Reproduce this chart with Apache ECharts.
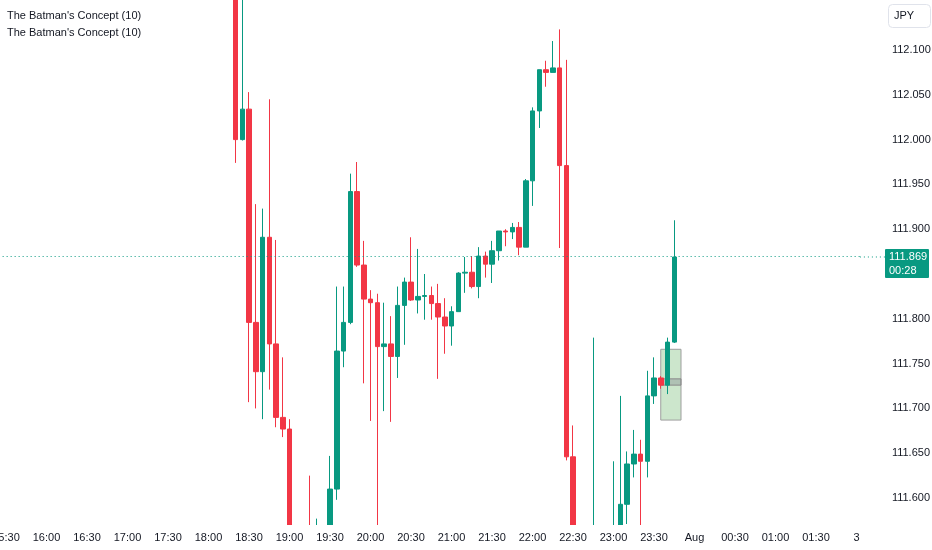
<!DOCTYPE html>
<html><head><meta charset="utf-8">
<script src="https://cdn.jsdelivr.net/npm/echarts@6/dist/echarts.min.js"></script>
<style>html,body{margin:0;padding:0;background:#fff}#c{width:932px;height:550px}</style>
</head><body><div id="c"></div>
<script>
const candleTimes = ['18:20','18:25','18:30','18:35','18:40','18:45','18:50','18:55','19:00','19:05','19:10','19:15','19:20','19:25','19:30','19:35','19:40','19:45','19:50','19:55','20:00','20:05','20:10','20:15','20:20','20:25','20:30','20:35','20:40','20:45','20:50','20:55','21:00','21:05','21:10','21:15','21:20','21:25','21:30','21:35','21:40','21:45','21:50','21:55','22:00','22:05','22:10','22:15','22:20','22:25','22:30','22:35','22:40','22:45','22:50','22:55','23:00','23:05','23:10','23:15','23:20','23:25','23:30','23:35','23:40','23:45'];
const openVals = [112.190,112.000,112.034,111.796,111.741,111.891,111.772,111.690,111.677,111.520,111.480,111.530,111.490,111.530,111.550,111.610,111.764,111.796,111.942,111.860,111.822,111.818,111.769,111.772,111.758,111.815,111.841,111.821,111.825,111.826,111.817,111.802,111.792,111.808,111.851,111.852,111.836,111.870,111.861,111.876,111.898,111.897,111.902,111.880,111.954,112.032,112.078,112.075,112.080,111.971,111.646,111.470,111.420,111.440,111.500,111.480,111.520,111.530,111.593,111.638,111.649,111.641,111.714,111.734,111.726,111.774];
const highVals = [112.210,112.170,112.053,111.928,111.923,112.045,111.888,111.757,111.688,111.550,111.530,111.625,111.577,111.565,111.647,111.836,111.836,111.962,111.975,111.887,111.832,111.828,111.818,111.803,111.836,111.846,111.891,111.878,111.850,111.836,111.839,111.823,111.814,111.852,111.869,111.870,111.880,111.875,111.887,111.898,111.900,111.907,111.908,111.956,112.036,112.078,112.088,112.110,112.123,112.089,111.681,111.520,111.500,111.779,111.550,111.540,111.641,111.714,111.652,111.676,111.665,111.742,111.757,111.736,111.779,111.910];
const lowVals = [111.974,111.999,111.707,111.700,111.688,111.721,111.679,111.668,111.500,111.460,111.440,111.470,111.460,111.500,111.530,111.598,111.746,111.794,111.858,111.728,111.686,111.560,111.697,111.685,111.734,111.771,111.820,111.806,111.799,111.799,111.733,111.761,111.770,111.808,111.829,111.834,111.823,111.846,111.840,111.865,111.881,111.889,111.871,111.880,111.926,112.013,112.059,112.075,111.879,111.642,111.450,111.400,111.380,111.420,111.460,111.450,111.500,111.510,111.571,111.623,111.568,111.623,111.705,111.722,111.716,111.773];
const closeVals = [112.000,112.034,111.796,111.741,111.891,111.772,111.690,111.677,111.520,111.480,111.500,111.490,111.530,111.550,111.610,111.764,111.796,111.942,111.860,111.822,111.818,111.769,111.772,111.758,111.815,111.841,111.821,111.825,111.826,111.817,111.802,111.792,111.808,111.851,111.852,111.836,111.870,111.861,111.876,111.898,111.897,111.902,111.880,111.954,112.032,112.078,112.075,112.080,111.971,111.646,111.470,111.420,111.440,111.500,111.480,111.520,111.530,111.593,111.638,111.649,111.641,111.714,111.734,111.726,111.774,111.869];
const yTickValues = [111.60,111.65,111.70,111.75,111.80,111.90,111.95,112.00,112.05,112.10];
const xLabelRename = {'00:00':'Aug','02:00':'3'};
const axisStart = '15:30', axisEnd = '02:00';
const legendLines = ["The Batman's Concept (10)", "The Batman's Concept (10)"];
const currencyLabel = 'JPY';
const timerText = '00:28';
const boxFrom = '23:35', boxTo = '23:50';
const boxTop = 111.766, boxBottom = 111.687, entryTop = 111.733, entryBottom = 111.726;

const UP = '#089981', DOWN = '#F23645', TXT = '#131722';
const FONT = "'Liberation Sans',Arial,sans-serif";
const Y_MIN = 111.5699, Y_MAX = 112.1558;

function toMin(t){const p=t.split(':');return (+p[0])*60+(+p[1]);}
function fmt(m){m=((m%1440)+1440)%1440;const h=Math.floor(m/60),mm=m%60;return (h<10?'0':'')+h+':'+(mm<10?'0':'')+mm;}
const categories=[];
{let m=toMin(axisStart);const end=toMin(axisEnd)+1440;while(m<=end){categories.push(fmt(m));m+=5;}}
const candleData = categories.map(c=>{const i=candleTimes.indexOf(c);return i<0?'-':[openVals[i],closeVals[i],lowVals[i],highVals[i]];});
const lastClose = closeVals[closeVals.length-1];

const chart = echarts.init(document.getElementById('c'), null, {renderer:'canvas'});
chart.setOption({
  animation:false,
  backgroundColor:'#ffffff',
  textStyle:{fontFamily:FONT},
  grid:{left:2.625, right:72.125, top:0, bottom:25, containLabel:false, outerBoundsMode:'none'},
  xAxis:{type:'category', data:categories, boundaryGap:true, z:60,
    axisLine:{show:false}, axisTick:{show:false}, splitLine:{show:false},
    axisLabel:{color:TXT, fontSize:11, fontFamily:FONT, margin:7, hideOverlap:false,
      interval:(i,v)=>toMin(v)%30===0,
      formatter:v=>xLabelRename[v]!==undefined?xLabelRename[v]:v}},
  yAxis:{type:'value', position:'right', min:Y_MIN, max:Y_MAX, scale:true, z:60,
    axisLine:{show:false}, axisTick:{show:false}, splitLine:{show:false},
    axisLabel:{color:TXT, fontSize:11, fontFamily:FONT, margin:32, align:'left',
      customValues:yTickValues, formatter:v=>v.toFixed(3)}},
  series:[{
    type:'candlestick', data:candleData, barWidth:5, clip:true,
    itemStyle:{color:UP, color0:DOWN, borderColor:UP, borderColor0:DOWN, borderWidth:1},
    markLine:{silent:true, symbol:['none','none'], label:{show:false},
      lineStyle:{color:UP, type:[1,3], width:1},
      data:[{yAxis:lastClose}]},
    markArea:{silent:true, data:[
      [{xAxis:boxFrom, yAxis:boxTop, itemStyle:{color:'rgba(120,190,120,0.38)', borderColor:'#9e9e9e', borderWidth:1}},{xAxis:boxTo, yAxis:boxBottom}],
      [{xAxis:boxFrom, yAxis:entryTop, itemStyle:{color:'rgba(120,123,134,0.35)', borderColor:'#8a8a8a', borderWidth:1}},{xAxis:boxTo, yAxis:entryBottom}]
    ]}
  }]
});

const yPix = chart.convertToPixel({yAxisIndex:0}, lastClose);
const yBottom = chart.convertToPixel({yAxisIndex:0}, Y_MIN);
const axisX = chart.convertToPixel({xAxisIndex:0}, categories[categories.length-1]) + 3.375;
chart.setOption({graphic:[
  {type:'rect', z:50, shape:{x:0, y:yBottom, width:932, height:550-yBottom}, style:{fill:'#ffffff'}},
  {type:'text', left:7, top:8, style:{text:legendLines.join('\n'), fill:TXT, font:'11px '+FONT, lineHeight:16.5}},
  {type:'rect', shape:{x:888.5, y:4.5, width:42, height:23, r:4}, style:{fill:'#fff', stroke:'#e0e3eb', lineWidth:1}},
  {type:'text', x:894, y:16, style:{text:currencyLabel, fill:TXT, font:'11px '+FONT, verticalAlign:'middle'}},
  {type:'line', shape:{x1:axisX, y1:yPix, x2:885, y2:yPix}, style:{stroke:UP, lineWidth:1, lineDash:[1,3]}},
  {type:'rect', shape:{x:885, y:yPix-8, width:44, height:29, r:1}, style:{fill:UP}},
  {type:'text', x:889, y:yPix, style:{text:lastClose.toFixed(3), fill:'#fff', font:'11px '+FONT, verticalAlign:'middle'}},
  {type:'text', x:889, y:yPix+14, style:{text:timerText, fill:'#fff', font:'11px '+FONT, verticalAlign:'middle'}}
]});
</script></body></html>
